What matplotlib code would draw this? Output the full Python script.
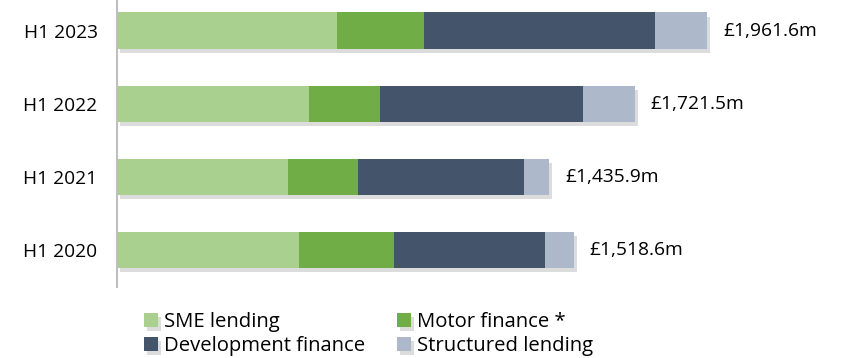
import matplotlib.pyplot as plt
import matplotlib.patheffects as pe
import numpy as np

plt.rcParams['font.family'] = ['Open Sans', 'DejaVu Sans']

# loan book by segment, £m (bottom row first)
periods = ["H1 2020", "H1 2021", "H1 2022", "H1 2023"]
sme = [605.0, 569.0, 637.5, 732.5]
motor = [314.5, 230.5, 238.0, 288.3]
development = [503.0, 553.0, 672.5, 767.0]
structured = [96.1, 83.4, 173.5, 173.8]
totals = [1518.6, 1435.9, 1721.5, 1961.6]

series = [
    ("SME lending", sme, "#a9d08e"),
    ("Motor finance *", motor, "#70ad47"),
    ("Development finance", development, "#44546a"),
    ("Structured lending", structured, "#adb9ca"),
]

fig = plt.figure(figsize=(8.45, 3.58), dpi=100)
ax = fig.add_axes([117/845, 0.1997, 728/845, 0.8165])

shadow = [pe.SimplePatchShadow(offset=(2, -3), shadow_rgbFace="#8c8c8c", alpha=0.3), pe.Normal()]

y = np.arange(len(periods))
left = np.zeros(len(periods))
handles = {}
for name, vals, col in series:
    bars = ax.barh(y, vals, left=left, height=0.5, color=col, edgecolor="none", label=name)
    for b in bars:
        b.set_path_effects(shadow)
    handles[name] = bars
    left = left + np.array(vals)

for yi, tot in zip(y, totals):
    ax.annotate("£{:,.1f}m".format(tot), xy=(tot, yi), xytext=(11.5, 0),
                textcoords="offset points", va="center", ha="left", fontsize=13.8)

ax.set_xlim(0, 2420)
ax.set_ylim(-0.5, 3.5)
ax.set_yticks(y)
ax.set_yticklabels(periods, fontsize=13.8)
ax.tick_params(axis="y", length=0, pad=14)
ax.set_xticks([])
for s in ["top", "right", "bottom"]:
    ax.spines[s].set_visible(False)
ax.spines["left"].set_color("#bfbfbf")
ax.spines["left"].set_linewidth(1.5)

# legend fills column by column
order = ["SME lending", "Development finance", "Motor finance *", "Structured lending"]
fig.legend([handles[n] for n in order], order, ncol=2, frameon=False,
           loc="upper left", bbox_to_anchor=(144/845, 1 - 312/358),
           fontsize=14.6, handlelength=0.7, handleheight=0.7, handletextpad=0.3,
           columnspacing=1.55, labelspacing=0.2, borderpad=0, borderaxespad=0)

fig.savefig("out.png", dpi=100)
